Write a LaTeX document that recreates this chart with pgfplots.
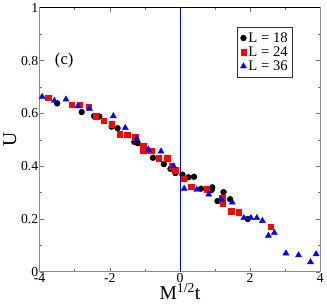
\documentclass[border=0pt]{standalone}
\usepackage{fontspec}
\setmainfont{Liberation Serif}
\usepackage{pgfplots}
\pgfplotsset{compat=1.18}

\begin{document}
\begin{tikzpicture}
\begin{axis}[
  width=287pt, height=270pt, scale only axis,
  xmin=-4, xmax=4, ymin=0, ymax=1,
  xtick={-4,-2,0,2,4}, minor xtick={-3,-1,1,3},
  ytick={0,0.2,0.4,0.6,0.8,1}, minor ytick={0.1,0.3,0.5,0.7,0.9},
  tick align=inside, major tick length=4pt, minor tick length=2.5pt,
  every tick/.style={black!55, line width=0.6pt},
  axis line style={black!45, line width=0.8pt},
  /pgf/number format/assume math mode=true,
  tick label style={font=\fontsize{14}{16}\selectfont},
  xticklabel style={yshift=2pt},
  yticklabel style={xshift=2pt},
  xlabel={M\textsuperscript{1/2}t},
  ylabel={U},
  label style={font=\fontsize{20}{22}\selectfont},
  xlabel style={yshift=6pt},
  ylabel style={yshift=-2pt},
  legend style={at={(0.902,0.926)}, anchor=north east, draw=black!80,
    font=\fontsize{15}{16}\selectfont, inner xsep=3pt, inner ysep=3pt, row sep=-1pt,
    cells={anchor=west}},
  legend image code/.code={\draw[#1] plot coordinates {(0.12cm,0cm)};},
]
\draw[black, line width=0.8pt] (rel axis cs:0,1) -- (rel axis cs:1,1);
\addplot[blue!75!black, line width=0.7pt, forget plot] coordinates {(0,0) (0,1)};

\addplot[only marks, mark=*, mark size=3pt, black] coordinates {
(-3.5,0.638) (-2.8,0.605) (-2.45,0.59) (-2.3,0.588) (-1.95,0.55) (-1.78,0.544)
(-1.3,0.492) (-1.2,0.487) (-1.27,0.51) (-0.95,0.46) (-0.77,0.432) (-0.46,0.408)
(-0.27,0.39) (-0.13,0.374) (0.07,0.368) (0.24,0.358) (0.4,0.36) (0.6,0.315)
(0.9,0.31) (0.92,0.32) (1.07,0.268) (1.24,0.302) (1.43,0.275) (1.93,0.2)
};
\addplot[only marks, mark=square*, mark size=2.8pt, red] coordinates {
(-3.75,0.66) (-3.08,0.633) (-2.86,0.632) (-2.6,0.625) (-2.4,0.59) (-2.18,0.572)
(-1.94,0.56) (-1.72,0.522) (-1.5,0.52) (-1.27,0.51) (-1.05,0.478) (-1.05,0.46)
(-0.82,0.458) (-0.6,0.43) (-0.36,0.43) (-0.24,0.4) (-0.13,0.385) (0.1,0.352)
(0.32,0.322) (0.76,0.313) (1.2,0.278) (1.22,0.26) (1.46,0.23) (1.68,0.226)
(2.58,0.17)
};
\addplot[only marks, mark=triangle*, mark size=3.6pt, blue] coordinates {
(-3.93,0.663) (-3.58,0.648) (-3.25,0.653) (-2.91,0.627) (-2.58,0.618) (-1.9,0.59)
(-1.56,0.545) (-1.23,0.503) (-0.9,0.463) (-0.54,0.456) (-0.18,0.4) (0.12,0.315)
(0.48,0.311) (0.82,0.293) (1.18,0.274) (1.49,0.263) (1.82,0.204) (2.02,0.204)
(2.19,0.204) (2.35,0.193) (2.52,0.137) (2.69,0.148) (3.02,0.07) (3.38,0.063)
(3.72,0.037) (3.88,0.067)
};
\legend{L = 18, L = 24, L = 36}
\node[font=\fontsize{17}{18}\selectfont] at (axis cs:-3.3,0.8) {(c)};
\end{axis}
\end{tikzpicture}
\end{document}
